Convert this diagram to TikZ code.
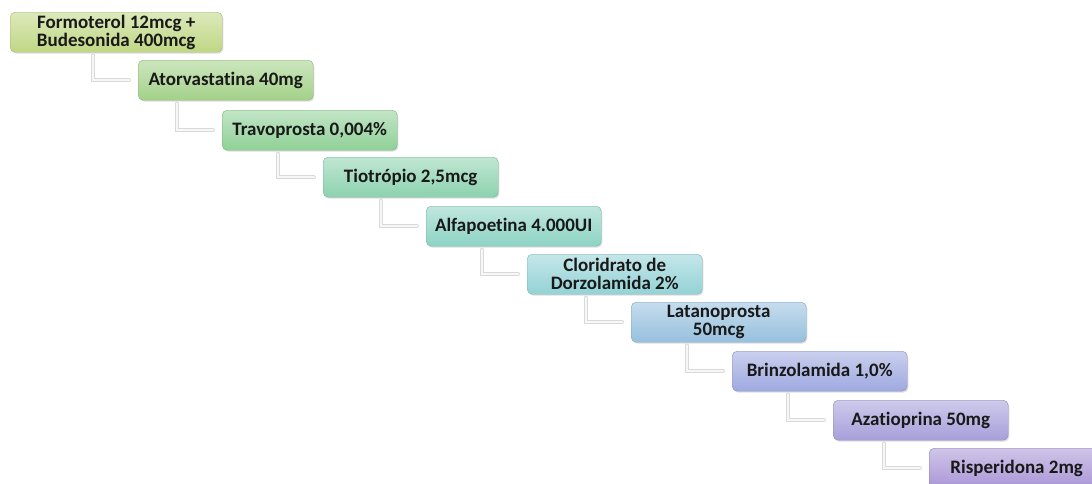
\documentclass[tikz,border=0pt]{standalone}
\usepackage{fontspec}
\setmainfont[Ligatures=NoCommon]{Carlito}
\usetikzlibrary{calc,shadows}

\definecolor{stepA}{HTML}{C0D784}
\definecolor{stepB}{HTML}{A3D188}
\definecolor{stepC}{HTML}{90D097}
\definecolor{stepD}{HTML}{8CD2AE}
\definecolor{stepE}{HTML}{8CD3C3}
\definecolor{stepF}{HTML}{94D2D6}
\definecolor{stepG}{HTML}{96C0DE}
\definecolor{stepH}{HTML}{9EA9E0}
\definecolor{stepI}{HTML}{A69FDA}
\definecolor{stepJ}{HTML}{A996D6}

\begin{document}
\begin{tikzpicture}[x=1pt,y=-1pt,line cap=round,
  drug/.style={rounded corners=5pt,top color=#1!55!white,bottom color=#1,
    draw=#1!85!black,line width=0.4pt,anchor=north west,align=center,
    minimum width=175pt,minimum height=40pt,inner sep=2pt,
    text=black!90,font=\bfseries\fontsize{19}{18}\selectfont,
    drop shadow={opacity=0.25,shadow xshift=1.2pt,shadow yshift=-1.5pt}},
  link/.style={draw=black!15,double=black!3,line width=0.8pt,
    double distance=2.2pt,line join=miter}]
\useasboundingbox (0,0) rectangle (1092,483);
\clip (0,0) rectangle (1092,483);
% the chain of boxes
\node[drug=stepA,minimum width=212pt] (formo) at (10,12) {Formoterol 12mcg +\\Budesonida 400mcg};
\node[drug=stepB] (atorva) at (138,60) {Atorvastatina 40mg};
\node[drug=stepC] (travo) at (222,110) {Travoprosta 0,004\%};
\node[drug=stepD] (tiotro) at (323,157) {Tiotrópio 2,5mcg};
\node[drug=stepE] (alfa) at (426,206) {Alfapoetina 4.000UI};
\node[drug=stepF] (dorzo) at (527,254) {Cloridrato de\\Dorzolamida 2\%};
\node[drug=stepG] (latano) at (631,302) {Latanoprosta\\50mcg};
\node[drug=stepH] (brinzo) at (732,351) {Brinzolamida 1,0\%};
\node[drug=stepI] (azatio) at (833,400) {Azatioprina 50mg};
\node[drug=stepJ] (risper) at (929,448) {Risperidona 2mg};
% elbow links
\draw[link] ($(formo.south -| atorva.west)+(-45pt,-3pt)$) |- ($(atorva.west)+(-9pt,0)$);
\draw[link] ($(atorva.south -| travo.west)+(-45pt,-3pt)$) |- ($(travo.west)+(-9pt,0)$);
\draw[link] ($(travo.south -| tiotro.west)+(-45pt,-3pt)$) |- ($(tiotro.west)+(-9pt,0)$);
\draw[link] ($(tiotro.south -| alfa.west)+(-45pt,-3pt)$) |- ($(alfa.west)+(-9pt,0)$);
\draw[link] ($(alfa.south -| dorzo.west)+(-45pt,-3pt)$) |- ($(dorzo.west)+(-9pt,0)$);
\draw[link] ($(dorzo.south -| latano.west)+(-45pt,-3pt)$) |- ($(latano.west)+(-9pt,0)$);
\draw[link] ($(latano.south -| brinzo.west)+(-45pt,-3pt)$) |- ($(brinzo.west)+(-9pt,0)$);
\draw[link] ($(brinzo.south -| azatio.west)+(-45pt,-3pt)$) |- ($(azatio.west)+(-9pt,0)$);
\draw[link] ($(azatio.south -| risper.west)+(-45pt,-3pt)$) |- ($(risper.west)+(-9pt,0)$);
\end{tikzpicture}
\end{document}
